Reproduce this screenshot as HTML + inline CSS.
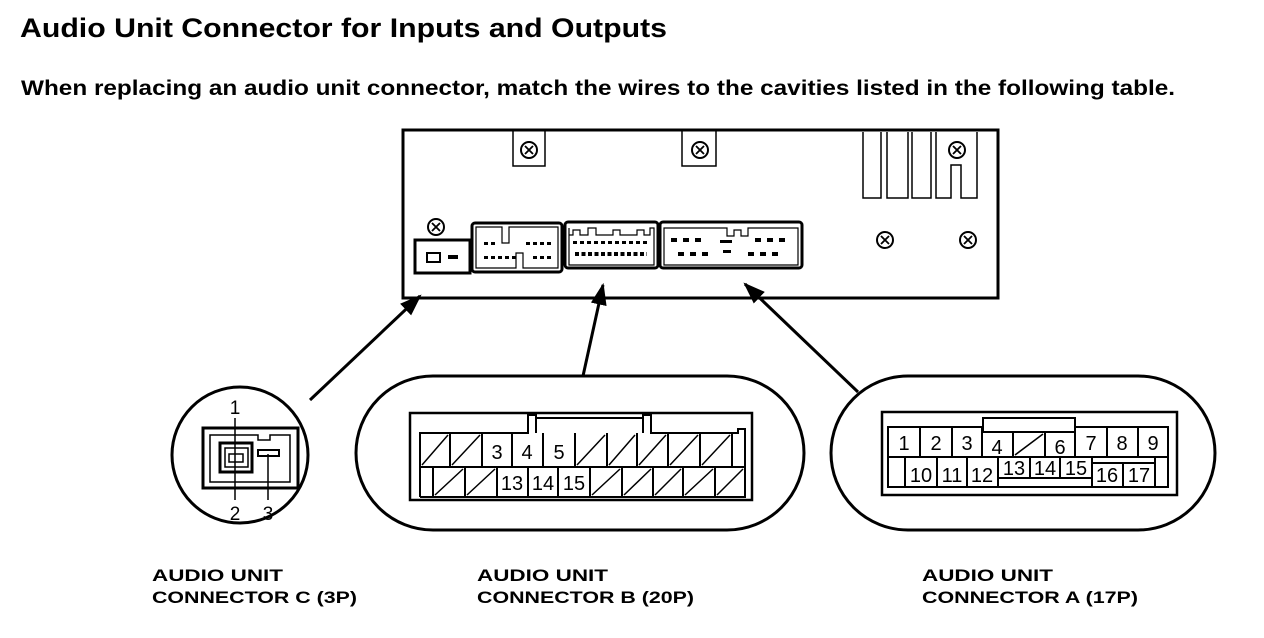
<!DOCTYPE html>
<html><head><style>html,body{margin:0;padding:0;background:#fff}svg{display:block}</style></head><body>
<svg width="1264" height="638" viewBox="0 0 1264 638" xmlns="http://www.w3.org/2000/svg" font-family="Liberation Sans, Arial, sans-serif">
<defs>
<marker id="ah2" viewBox="0 0 10 10" markerWidth="22" markerHeight="16" refX="9" refY="5" orient="auto" markerUnits="userSpaceOnUse" preserveAspectRatio="none"><path d="M0,0 L10,5 L0,10 z" fill="#000"/></marker>
<g id="scr"><circle r="8" fill="#fff" stroke="#000" stroke-width="2"/><path d="M-4,-4 L4,4 M4,-4 L-4,4" stroke="#000" stroke-width="1.8"/></g>
</defs>
<text x="20" y="37" font-size="27" font-weight="bold" textLength="647" lengthAdjust="spacingAndGlyphs">Audio Unit Connector for Inputs and Outputs</text>
<text x="21" y="95" font-size="21" font-weight="bold" textLength="1154" lengthAdjust="spacingAndGlyphs">When replacing an audio unit connector, match the wires to the cavities listed in the following table.</text>

<g fill="none" stroke="#000">
<rect x="403" y="130" width="595" height="168" stroke-width="3"/>
<path d="M513,130 V166 H545 V130 M682,130 V166 H716 V130" stroke-width="1.5"/>
<path d="M863,132 V198 H881 V132 M887,132 V198 H908 V132 M912,132 V198 H931 V132 M936,132 V198 H951 V165 H961 V198 H977 V132" stroke-width="1.5"/>
<rect x="415" y="240" width="55" height="33" stroke-width="3"/>
<rect x="427" y="253" width="13" height="9" stroke-width="2"/>
<rect x="472" y="223" width="90" height="49" rx="3" stroke-width="3"/>
<path d="M476,227 H502 V243 H509 V227 H558 V268 H523 V253 H516 V268 H476 Z" stroke-width="1.2"/>
<rect x="565" y="222" width="93" height="46" rx="3" stroke-width="3"/>
<path d="M569,228 V265 H654 V228 H650 V235 H644 V230 H637 V235 H620 V230 H613 V235 H596 V228 H588 V235 H580 V230 H573 V235 H569" stroke-width="1.2"/>
<rect x="660" y="222" width="142" height="46" rx="3" stroke-width="3"/>
<path d="M664,228 V265 H798 V228 H748 V236 H741 V230 H734 V236 H727 V228 Z" stroke-width="1.2"/>
</g>
<rect x="448" y="255" width="10" height="4" fill="#000"/>
<g fill="#000">
<rect x="484" y="242" width="4" height="3"/><rect x="491" y="242" width="4" height="3"/><rect x="526" y="242" width="4" height="3"/><rect x="533" y="242" width="4" height="3"/><rect x="540" y="242" width="4" height="3"/><rect x="547" y="242" width="4" height="3"/>
<rect x="484" y="256" width="4" height="3"/><rect x="491" y="256" width="4" height="3"/><rect x="498" y="256" width="4" height="3"/><rect x="505" y="256" width="4" height="3"/><rect x="512" y="256" width="4" height="3"/><rect x="533" y="256" width="4" height="3"/><rect x="540" y="256" width="4" height="3"/><rect x="547" y="256" width="4" height="3"/>
<rect x="671" y="238" width="6" height="4"/><rect x="683" y="238" width="6" height="4"/><rect x="695" y="238" width="6" height="4"/><rect x="720" y="240" width="12" height="3"/><rect x="755" y="238" width="6" height="4"/><rect x="767" y="238" width="6" height="4"/><rect x="779" y="238" width="6" height="4"/>
<rect x="678" y="252" width="6" height="4"/><rect x="690" y="252" width="6" height="4"/><rect x="702" y="252" width="6" height="4"/><rect x="723" y="250" width="8" height="3"/><rect x="748" y="252" width="6" height="4"/><rect x="760" y="252" width="6" height="4"/><rect x="772" y="252" width="6" height="4"/>
</g>
<g stroke="#000" stroke-width="3"><line x1="573" y1="242.5" x2="647" y2="242.5" stroke-dasharray="4 3"/><line x1="575" y1="254" x2="647" y2="254" stroke-dasharray="4 2.5" stroke-width="4"/></g>
<use href="#scr" x="529" y="150"/><use href="#scr" x="700" y="150"/><use href="#scr" x="957" y="150"/>
<use href="#scr" x="436" y="227"/><use href="#scr" x="885" y="240"/><use href="#scr" x="968" y="240"/>

<g stroke="#000" stroke-width="3" fill="none">
<line x1="310" y1="400" x2="420" y2="296" marker-end="url(#ah2)"/>
<line x1="583" y1="376" x2="603" y2="285" marker-end="url(#ah2)"/>
<line x1="858" y1="392" x2="745" y2="284" marker-end="url(#ah2)"/>
<circle cx="240" cy="455" r="68"/>
<rect x="356" y="376" width="448" height="154" rx="77"/>
<rect x="831" y="376" width="384" height="154" rx="77"/>
</g>

<!-- Connector C -->
<g fill="none" stroke="#000">
<rect x="203" y="428" width="95" height="60" stroke-width="3"/>
<path d="M210,435 H258 V440 H270 V435 H290 V482 H210 Z" stroke-width="1.5"/>
<rect x="220" y="443" width="32" height="29" stroke-width="3"/>
<rect x="225" y="448" width="23" height="19" stroke-width="1.5"/>
<rect x="229" y="454" width="14" height="8" stroke-width="1.5"/>
<rect x="258" y="450" width="21" height="6" stroke-width="2"/>
<line x1="235" y1="418" x2="235" y2="500" stroke-width="1.5"/>
<line x1="268" y1="454" x2="268" y2="500" stroke-width="1.5"/>
</g>
<g font-size="19" text-anchor="middle"><text x="235" y="414">1</text><text x="235" y="520">2</text><text x="268" y="520">3</text></g>

<!-- Connector B -->
<g fill="none" stroke="#000" stroke-width="2">
<rect x="410" y="413" width="342" height="87" stroke-width="2.5"/>
<path d="M420,497 V433 H528 V415 H536 V433 M643,433 V415 H651 V433 H738 V429 H745 V497 H420"/>
<line x1="536" y1="418" x2="643" y2="418"/>
<line x1="420" y1="467" x2="745" y2="467"/>
<path d="M450,433V467 M482,433V467 M512,433V467 M543,433V467 M575,433V467 M607,433V467 M637,433V467 M668,433V467 M700,433V467 M732,433V467"/>
<path d="M433,467V497 M465,467V497 M497,467V497 M528,467V497 M558,467V497 M590,467V497 M622,467V497 M653,467V497 M683,467V497 M715,467V497"/>
<path d="M422,465 L448,435 M452,465 L480,435 M577,465 L605,435 M609,465 L635,435 M639,465 L666,435 M670,465 L698,435 M702,465 L730,435" stroke-width="1.5"/>
<path d="M435,495 L463,469 M467,495 L495,469 M592,495 L620,469 M624,495 L651,469 M655,495 L681,469 M685,495 L713,469 M717,495 L743,469" stroke-width="1.5"/>
</g>
<g font-size="20" text-anchor="middle"><text x="497" y="459">3</text><text x="527" y="459">4</text><text x="559" y="459">5</text><text x="512" y="490">13</text><text x="543" y="490">14</text><text x="574" y="490">15</text></g>

<!-- Connector A -->
<g fill="none" stroke="#000" stroke-width="2">
<rect x="882" y="412" width="295" height="83" stroke-width="2.5"/>
<rect x="983" y="418" width="92" height="14"/>
<path d="M983,427 H888 V487 H1168 V427 H1075"/>
<line x1="983" y1="432" x2="1075" y2="432"/>
<path d="M920,427V457 M952,427V457 M982,427V457 M1013,432V457 M1045,432V457 M1075,427V457 M1107,427V457 M1138,427V457"/>
<line x1="888" y1="457" x2="1168" y2="457"/>
<path d="M905,457V487 M937,457V487 M967,457V487 M998,457V487 M1030,457V478 M1060,457V478 M1092,457V487 M1123,463V487 M1155,457V487"/>
<path d="M998,478 H1092 M1092,463 H1155"/>
<line x1="1015" y1="455" x2="1043" y2="434" stroke-width="1.5"/>
</g>
<g font-size="20" text-anchor="middle"><text x="904" y="450">1</text><text x="936" y="450">2</text><text x="967" y="450">3</text><text x="997" y="454">4</text><text x="1060" y="454">6</text><text x="1091" y="450">7</text><text x="1122" y="450">8</text><text x="1153" y="450">9</text>
<text x="921" y="482">10</text><text x="952" y="482">11</text><text x="982" y="482">12</text><text x="1014" y="475">13</text><text x="1045" y="475">14</text><text x="1076" y="475">15</text><text x="1107" y="482">16</text><text x="1139" y="482">17</text></g>

<g font-size="17" font-weight="bold">
<text x="152" y="581" textLength="131" lengthAdjust="spacingAndGlyphs">AUDIO UNIT</text>
<text x="152" y="603" textLength="205" lengthAdjust="spacingAndGlyphs">CONNECTOR C (3P)</text>
<text x="477" y="581" textLength="131" lengthAdjust="spacingAndGlyphs">AUDIO UNIT</text>
<text x="477" y="603" textLength="217" lengthAdjust="spacingAndGlyphs">CONNECTOR B (20P)</text>
<text x="922" y="581" textLength="131" lengthAdjust="spacingAndGlyphs">AUDIO UNIT</text>
<text x="922" y="603" textLength="216" lengthAdjust="spacingAndGlyphs">CONNECTOR A (17P)</text>
</g>
</svg>
</body></html>
